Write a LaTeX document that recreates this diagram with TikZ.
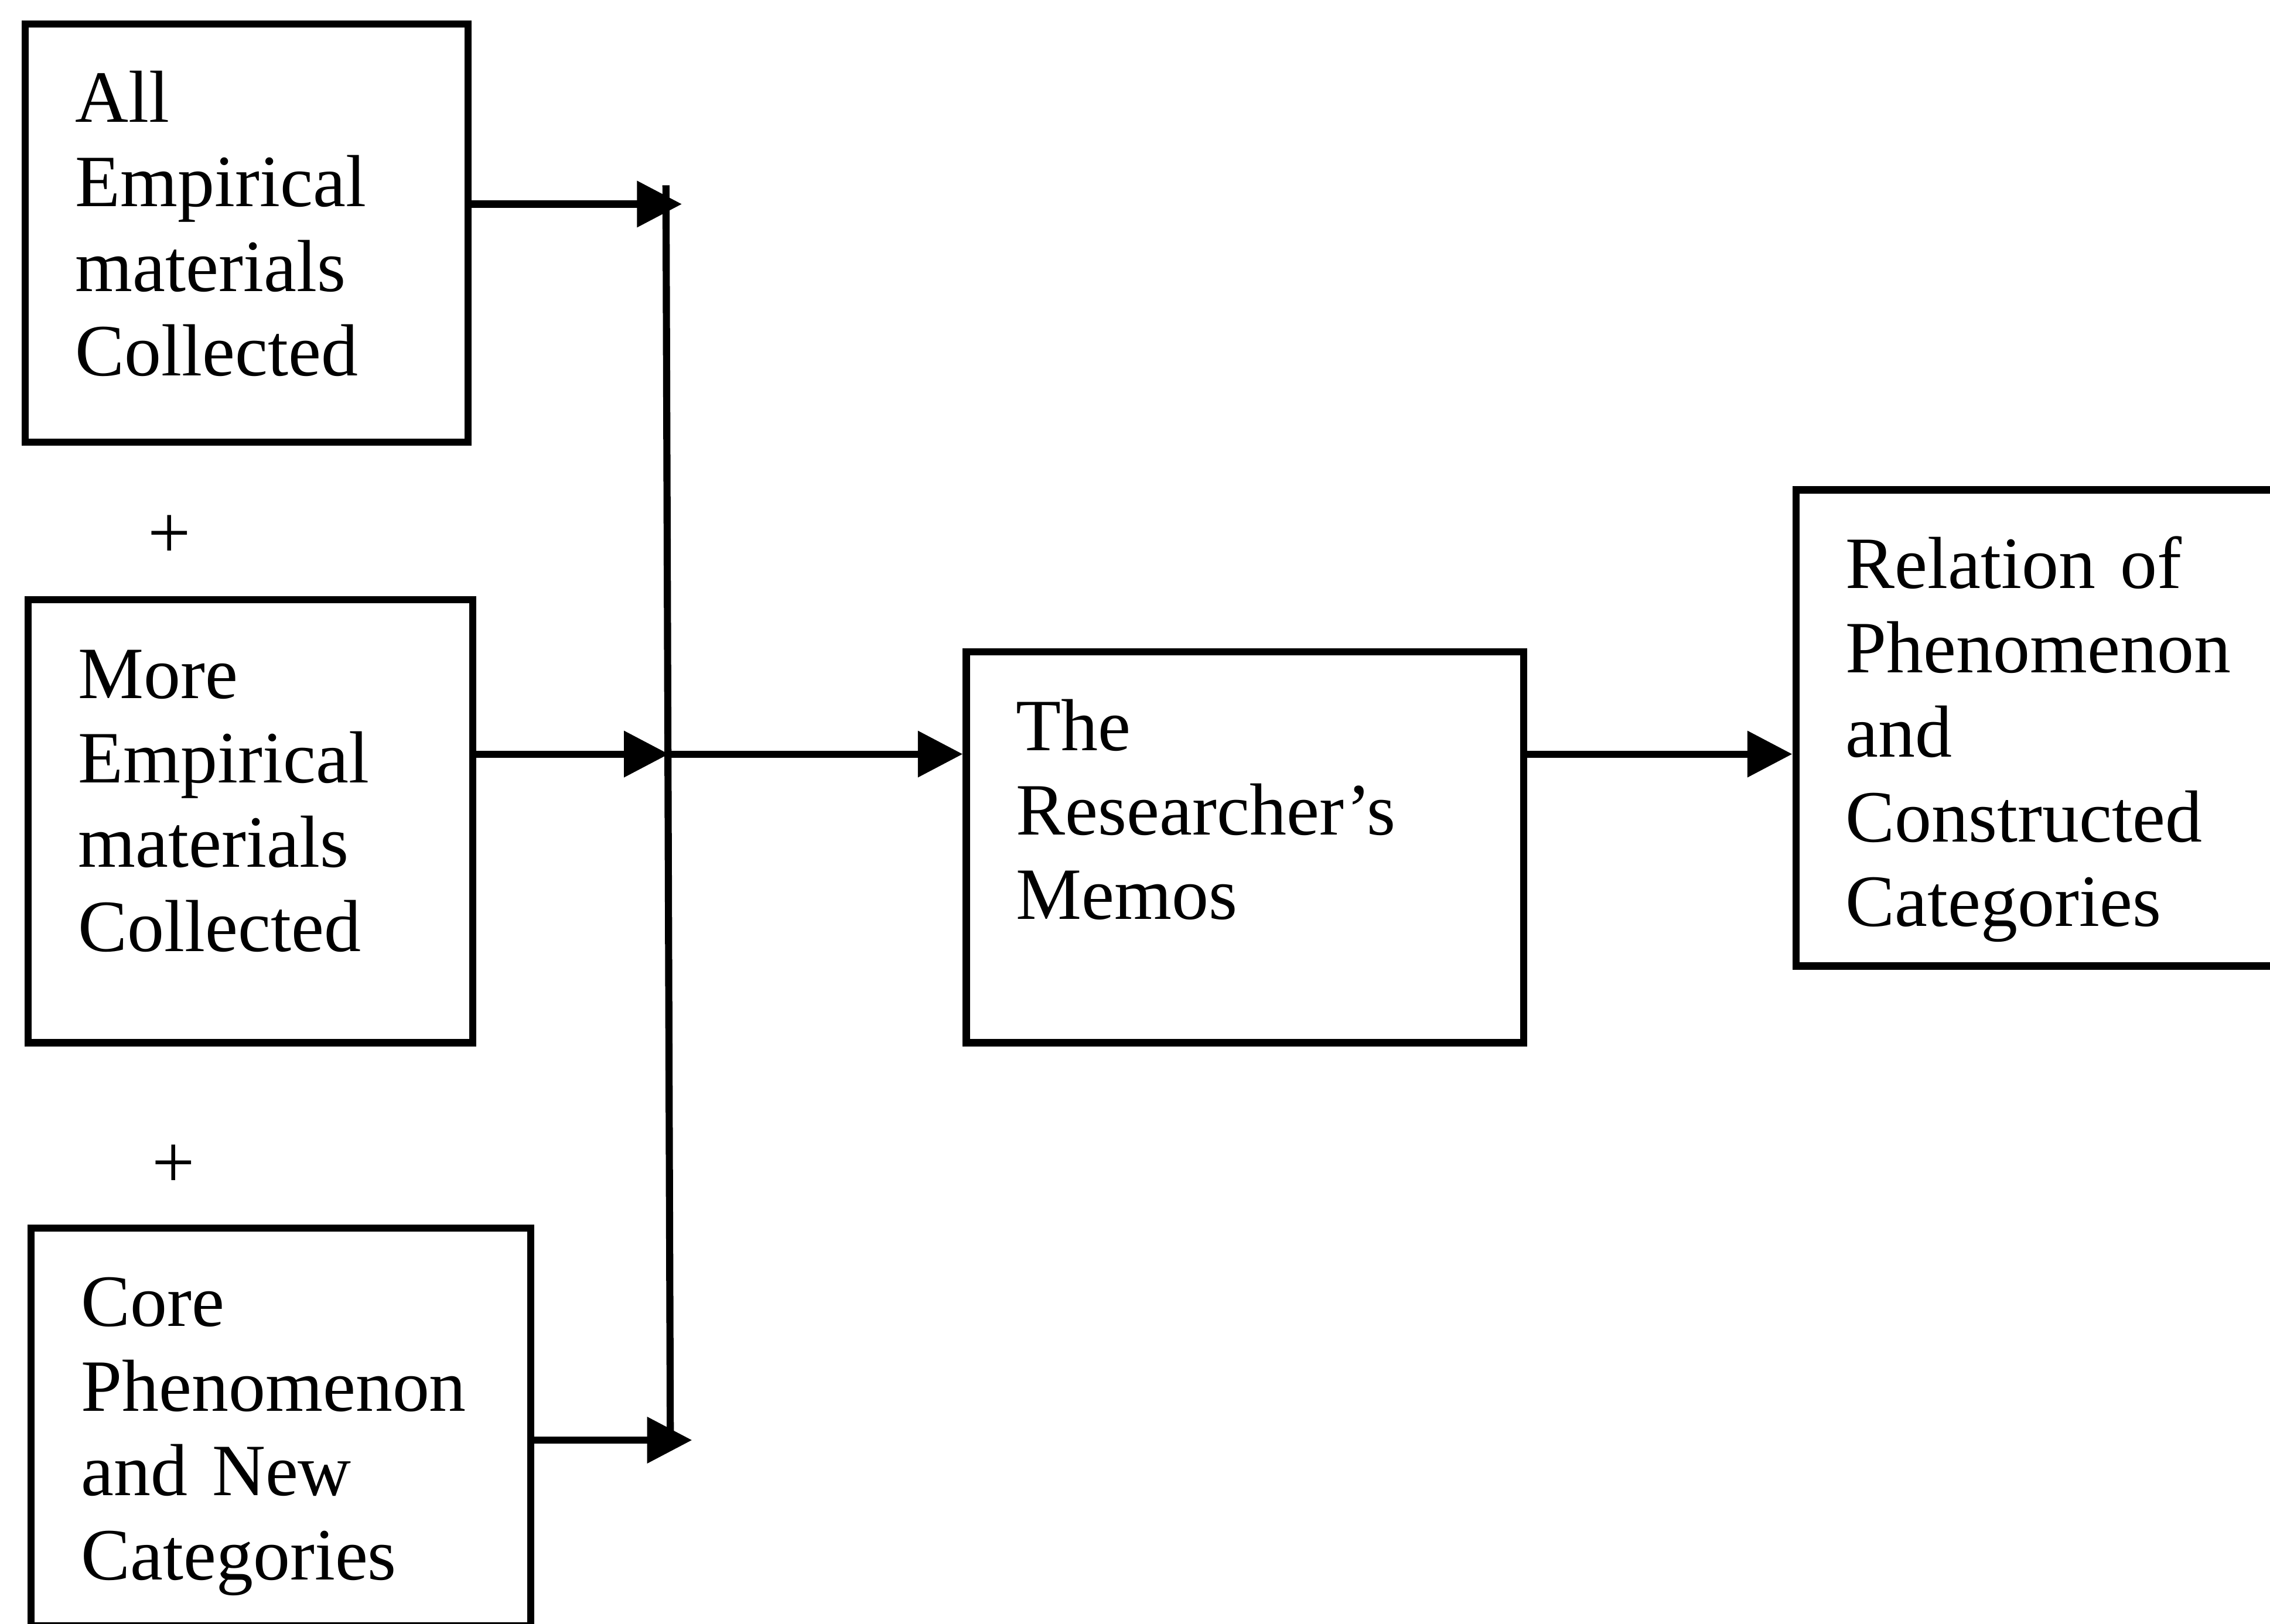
\documentclass[tikz,border=0pt]{standalone}
\usepackage{fontspec}
\setmainfont{Liberation Serif}
\usetikzlibrary{arrows.meta,calc}

\begin{document}
\begin{tikzpicture}[
  stage/.style={draw, line width=1.4pt, anchor=north west, align=left, inner xsep=0.345cm, inner ysep=0pt, text height=0.68cm, font=\fontsize{14.5}{16.6}\selectfont},
  flow/.style={-{Triangle[length=0.31cm, width=0.31cm]}, line width=1.4pt},
  bus/.style={line width=1.4pt},
  plus/.style={font=\fontsize{15}{16.6}\selectfont}
]

\useasboundingbox (0,0) rectangle (15.68,-11.22);
\clip (0,0) rectangle (15.68,-11.22);

\node[stage, text width=2.37cm, text depth=2.21cm] (allmat) at (0.15,-0.14) {All\\Empirical\\materials\\Collected};
\node[plus] (plusA) at (1.17,-3.71) {+};
\node[stage, text width=2.38cm, text depth=2.38cm] (moremat) at (0.17,-4.12) {More\\Empirical\\materials\\Collected};
\node[plus] (plusB) at (1.20,-8.06) {+};
\node[stage, text width=2.76cm, text depth=2.07cm] (coremat) at (0.19,-8.46) {Core\\Phenomenon\\and New\\Categories};

\node[stage, text width=3.16cm, text depth=2.02cm] (memos) at (6.65,-4.48) {The\\Researcher’s\\Memos};
\node[stage, text width=2.93cm, text depth=2.61cm] (relation) at (12.38,-3.36) {Relation of\\Phenomenon\\and\\Constructed\\Categories};

% collecting line
\coordinate (busTop) at (4.60,-1.28);
\coordinate (busMid) at (4.62,-5.21);
\coordinate (busBot) at (4.63,-9.90);
\coordinate (tipA) at (4.71,-1.41);
\coordinate (tipC) at (4.78,-9.95);

\draw[bus] (busTop) -- (busBot);
\draw[flow] (allmat.east |- tipA) -- (tipA);
\draw[flow] (moremat.east |- busMid) -- (busMid);
\draw[flow] (coremat.east |- tipC) -- (tipC);

\draw[flow] (busMid) -- (memos.west |- busMid);
\draw[flow] (memos.east |- busMid) -- (relation.west |- busMid);

\end{tikzpicture}
\end{document}
